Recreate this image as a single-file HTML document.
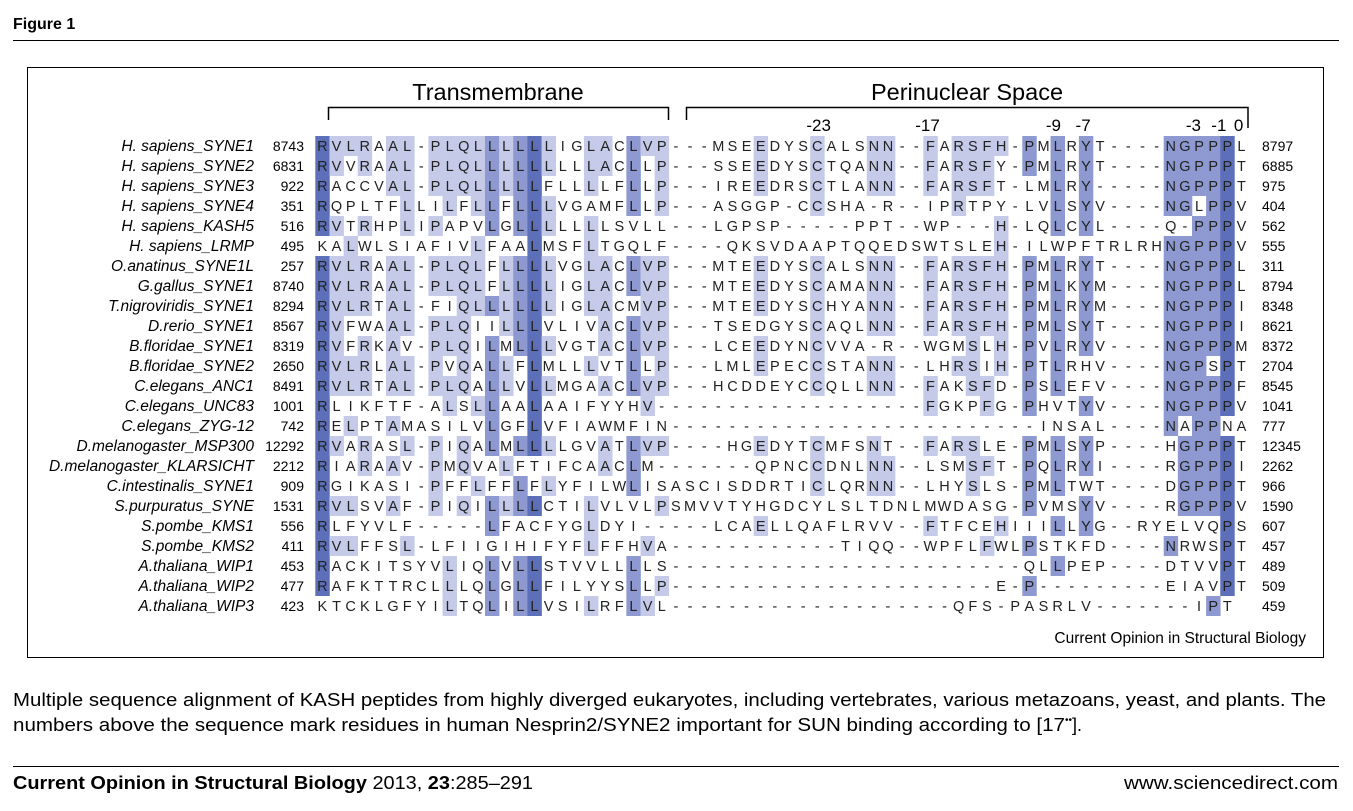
<!DOCTYPE html>
<html><head><meta charset="utf-8"><style>
body{margin:0;background:#fff}
svg{display:block;font-family:"Liberation Sans",Arial,sans-serif}
</style></head><body>
<svg id="fig" width="1353" height="811" viewBox="0 0 1353 811">
<text x="13" y="29" font-size="16" font-weight="bold">Figure 1</text>
<line x1="13" y1="40.5" x2="1339" y2="40.5" stroke="#000" stroke-width="1"/>
<rect x="27.5" y="67.5" width="1296" height="590" fill="none" stroke="#000" stroke-width="1"/>
<text x="498" y="100" font-size="23.5" text-anchor="middle">Transmembrane</text>
<path d="M328.5,120 V107.5 H668.5 V120" fill="none" stroke="#000" stroke-width="1.5"/>
<text x="967" y="100" font-size="23.5" text-anchor="middle">Perinuclear Space</text>
<path d="M686.5,120 V107.5 H1248 V128" fill="none" stroke="#000" stroke-width="1.5"/>
<g id="posnums" font-size="17" text-anchor="middle"></g>
<g id="cells"></g>
<g id="letters" font-size="14.5" text-anchor="middle" fill="#222"></g>
<g id="labels" font-size="14"></g>
<text x="1306" y="643" font-size="15.5" text-anchor="end">Current Opinion in Structural Biology</text>
<text x="13" y="706" font-size="18" textLength="1313" lengthAdjust="spacingAndGlyphs">Multiple sequence alignment of KASH peptides from highly diverged eukaryotes, including vertebrates, various metazoans, yeast, and plants. The</text>
<text x="13" y="731" font-size="18"><tspan textLength="1052" lengthAdjust="spacingAndGlyphs">numbers above the sequence mark residues in human Nesprin2/SYNE2 important for SUN binding according to [17</tspan><tspan font-size="10" dy="-8">••</tspan><tspan dy="8">].</tspan></text>
<line x1="13" y1="766.5" x2="1339" y2="766.5" stroke="#000" stroke-width="1"/>
<text x="13" y="789" font-size="18" textLength="520" lengthAdjust="spacingAndGlyphs"><tspan font-weight="bold">Current Opinion in Structural Biology</tspan> 2013, <tspan font-weight="bold">23</tspan>:285–291</text>
<text x="1338" y="789" font-size="18" text-anchor="end" textLength="214" lengthAdjust="spacingAndGlyphs">www.sciencedirect.com</text>
</svg>
<script>
const names=["H. sapiens_SYNE1","H. sapiens_SYNE2","H. sapiens_SYNE3","H. sapiens_SYNE4","H. sapiens_KASH5","H. sapiens_LRMP","O.anatinus_SYNE1L","G.gallus_SYNE1","T.nigroviridis_SYNE1","D.rerio_SYNE1","B.floridae_SYNE1","B.floridae_SYNE2","C.elegans_ANC1","C.elegans_UNC83","C.elegans_ZYG-12","D.melanogaster_MSP300","D.melanogaster_KLARSICHT","C.intestinalis_SYNE1","S.purpuratus_SYNE","S.pombe_KMS1","S.pombe_KMS2","A.thaliana_WIP1","A.thaliana_WIP2","A.thaliana_WIP3"];
const startNums=[8743,6831,922,351,516,495,257,8740,8294,8567,8319,2650,8491,1001,742,12292,2212,909,1531,556,411,453,477,423];
const endNums=[8797,6885,975,404,562,555,311,8794,8348,8621,8372,2704,8545,1041,777,12345,2262,966,1590,607,457,489,509,459];
const seqs=[
"RVLRAAL-PLQLLLLLLIGLACLVP---MSEEDYSCALSNN--FARSFH-PMLRYT----NGPPPL",
"RVVRAAL-PLQLLLLLLLLLACLLP---SSEEDYSCTQANN--FARSFY-PMLRYT----NGPPPT",
"RACCVAL-PLQLLLLLFLLLLFLLP---IREEDRSCTLANN--FARSFT-LMLRY-----NGPPPT",
"RQPLTFLLILFLLFLLLVGAMFLLP---ASGGP-CCSHA-R--IPRTPY-LVLSYV----NGLPPV",
"RVTRHPLIPAPVLGLLLLLLLSVLL---LGPSP-----PPT--WP---H-LQLCYL----Q-PPPV",
"KALWLSIAFIVLFAALMSFLTGQLF----QKSVDAAPTQQEDSWTSLEH-ILWPFTRLRHNGPPPV",
"RVLRAAL-PLQLFLLLLVGLACLVP---MTEEDYSCALSNN--FARSFH-PMLRYT----NGPPPL",
"RVLRAAL-PLQLFLLLLIGLACLVP---MTEEDYSCAMANN--FARSFH-PMLKYM----NGPPPL",
"RVLRTAL-FIQLLLLLLIGLACMVP---MTEEDYSCHYANN--FARSFH-PMLRYM----NGPPPI",
"RVFWAAL-PLQIILLLVLIVACLVP---TSEDGYSCAQLNN--FARSFH-PMLSYT----NGPPPI",
"RVFRKAV-PLQILMLLLVGTACLVP---LCEEDYNCVVA-R--WGMSLH-PVLRYV----NGPPPM",
"RVLRLAL-PVQALLFLMLLLVTLLP---LMLEPECCSTANN--LHRSIH-PTLRHV----NGPSPT",
"RVLRTAL-PLQALLVLLMGAACLVP---HCDDEYCCQLLNN--FAKSFD-PSLEFV----NGPPPF",
"RLIKFTF-ALSLLAALAAIFYYHV-------------------FGKPFG-PHVTYV----NGPPPV",
"RELPTAMASILVLGFLVFIAWMFIN--------------------------INSAL----NAPPNA",
"RVARASL-PIQALMLLLLGVATLVP----HGEDYTCMFSNT--FARSLE-PMLSYP----HGPPPT",
"RIARAAV-PMQVALFTIFCAACLM-------QPNCCDNLNN--LSMSFT-PQLRYI----RGPPPI",
"RGIKASI-PFFLFFLFLYFILWLISASCISDDRTICLQRNN--LHYSLS-PMLTWT----DGPPPT",
"RVLSVAF-PIQILLLLCTILVLVLPSMVVTYHGDCYLSLTDNLMWDASG-PVMSYV----RGPPPV",
"RLFYVLF-----LFACFYGLDYI-----LCAELLQAFLRVV--FTFCEHIIILLYG--RYELVQPS",
"RVLFFSL-LFIIGIHIFYFLFFHVA------------TIQQ--WPFLFWLPSTKFD----NRWSPT",
"RACKITSYVLIQLVLLSTVVLLLLS-------------------------QLLPEP----DTVVPT",
"RAFKTTRCLLLQLGLLFILYYSLLP-----------------------E-P---------EIAVPT",
"KTCKLGFYILTQLILLVSILRFLVL--------------------QFS-PASRLV-------IPT"
];
const posLabels=["-23","-17","-9","-7","-3","-1","0"];
const posCols=[35.1,42.8,51.7,53.8,61.6,63.4,64.8];
const NS="http://www.w3.org/2000/svg";
const x0=315.3, cw=14.14, y0=136, rh=20;
function colX(c){return x0+c*cw;}
function rowY(r){return y0+r*rh;}
function mk(tag,attrs,parent){const e=document.createElementNS(NS,tag);for(const k in attrs)e.setAttribute(k,attrs[k]);parent.appendChild(e);return e;}
const cells=document.getElementById('cells'),letters=document.getElementById('letters'),labels=document.getElementById('labels'),posG=document.getElementById('posnums');
const ncol=66;
for(let c=0;c<ncol;c++){
  const cnt={};
  seqs.forEach(s=>{const ch=s[c]||'-';if(ch!=='-')cnt[ch]=(cnt[ch]||0)+1;});
  let best=null,bc=0;for(const k in cnt){if(cnt[k]>bc){bc=cnt[k];best=k;}}
  const pct=bc/seqs.length*100;
  let col=null;
  if(pct>80)col="#5d6fb9";else if(pct>60)col="#8d99d0";else if(pct>40)col="#c4cae8";
  if(!col)continue;
  seqs.forEach((s,r)=>{
    if(s[c]===best){
      const e=mk('rect',{x:colX(c).toFixed(2),y:rowY(r),width:(cw+0.3).toFixed(2),height:rh,fill:col},cells);
      
      
    }
  });
}
seqs.forEach((s,r)=>{
  const y=rowY(r)+15;
  const t=mk('text',{x:254,y:y,'text-anchor':'end','font-style':'italic','font-size':'15.5'},labels);t.textContent=names[r];
  
  
  const a=mk('text',{x:304,y:y,'text-anchor':'end'},labels);a.textContent=startNums[r];
  
  
  const b=mk('text',{x:1262,y:y},labels);b.textContent=endNums[r];
  
  
  for(let c=0;c<s.length;c++){
    const e=mk('text',{x:(colX(c)+cw/2).toFixed(2),y:y},letters);e.textContent=s[c];
    
    
  }
});
posLabels.forEach((l,i)=>{
  const e=mk('text',{x:(colX(posCols[i])+cw/2).toFixed(2),y:131},posG);e.textContent=l;
  
  
});
</script>
</body></html>
